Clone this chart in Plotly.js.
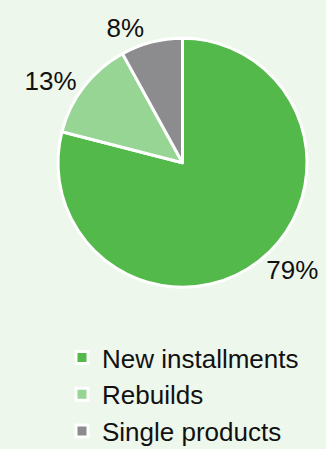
<!DOCTYPE html>
<html>
<head>
<meta charset="utf-8">
<script src="https://cdn.plot.ly/plotly-3.0.1.min.js"></script>
<style>html,body{margin:0;padding:0;background:#eef7ec;overflow:hidden;width:326px;height:449px;}#chart{width:326px;height:455px;}</style>
</head>
<body>
<div id="chart"></div>
<script>
const categories = ["New installments", "Rebuilds", "Single products"];
const shares = [79, 13, 8];
const colors = ["#53b94b", "#97d595", "#8c8c8e"];

const H = 455;
const trace = {
  type: "pie",
  labels: categories,
  values: shares,
  sort: false,
  direction: "clockwise",
  rotation: 0,
  marker: { colors: colors, line: { color: "#ffffff", width: 3 } },
  textinfo: "percent",
  texttemplate: "%{percent:.0%}",
  textposition: "outside",
  outsidetextfont: { family: "Liberation Sans, Arial, sans-serif", size: 26, color: "#111111" },
  hoverinfo: "none",
  domain: { x: [58 / 326, 307 / 326], y: [1 - 287.5 / H, 1 - 38 / H] }
};

const layout = {
  width: 326,
  height: H,
  margin: { l: 0, r: 0, t: 0, b: 0 },
  paper_bgcolor: "#eef7ec",
  plot_bgcolor: "#eef7ec",
  font: { family: "Liberation Sans, Arial, sans-serif", size: 26, color: "#111111" },
  showlegend: true,
  legend: {
    x: 62 / 326, xanchor: "left",
    y: 0, yanchor: "bottom",
    bgcolor: "rgba(0,0,0,0)",
    font: { family: "Liberation Sans, Arial, sans-serif", size: 26, color: "#111111" },
    itemwidth: 30,
    tracegroupgap: 0
  }
};

Plotly.newPlot("chart", [trace], layout, { displayModeBar: false, staticPlot: true });
</script>
</body>
</html>
